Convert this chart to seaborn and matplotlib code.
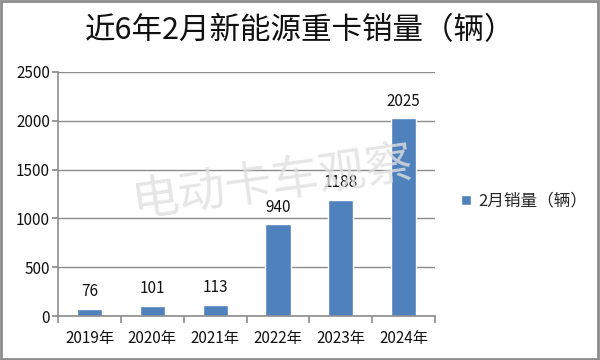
import matplotlib
matplotlib.use("Agg")
import matplotlib.pyplot as plt
import seaborn as sns
import numpy as np
import pandas as pd
from matplotlib.patches import Rectangle

years = ["2019年", "2020年", "2021年", "2022年", "2023年", "2024年"]
sales = [76, 101, 113, 940, 1188, 2025]
series_name = "2月销量（辆）"
title = "近6年2月新能源重卡销量（辆）"
y_ticks = [0, 500, 1000, 1500, 2000, 2500]

df = pd.DataFrame({"year": years, "sales": sales, "series": series_name})

sns.set_theme(style="white")
plt.rcParams['font.family'] = ['Noto Sans CJK SC', 'DejaVu Sans']

bar_color = "#4F81BD"
grey = "#8C8C8C"

fig = plt.figure(figsize=(6, 3.6), dpi=100)
ax = fig.add_axes([0.097, 0.122, 0.628, 0.678])

sns.barplot(data=df, x="year", y="sales", hue="series", palette=[bar_color],
            width=0.4, saturation=1, ax=ax, legend=True)

# value labels
for i, v in enumerate(sales):
    ax.text(i, v + 90, str(v), ha="center", va="bottom", fontsize=11, color="#111111")

ax.set_ylim(0, 2500)
ax.set_xlim(-0.5, len(years) - 0.5)
ax.set_yticks(y_ticks)
ax.yaxis.grid(True, color=grey, linewidth=1)
ax.set_axisbelow(True)
ax.set_xlabel("")
ax.set_ylabel("")

for s in ["top", "right"]:
    ax.spines[s].set_visible(False)
for s in ["left", "bottom"]:
    ax.spines[s].set_color(grey)
    ax.spines[s].set_linewidth(1.2)

ax.tick_params(axis="y", which="major", left=True, length=4, color=grey,
               labelsize=11, labelcolor="#111111", pad=2)
ax.tick_params(axis="x", which="major", bottom=False, labelsize=11,
               labelcolor="#111111", pad=4)
ax.set_xticks(np.arange(-0.5, len(years)), minor=True)
ax.tick_params(axis="x", which="minor", bottom=True, length=5, color=grey, width=1.2)

leg = ax.legend(loc="center left", bbox_to_anchor=(1.03, 0.47), frameon=False,
                fontsize=12, handlelength=0.6, handleheight=0.6, handletextpad=0.4)

fig.text(0.5, 0.915, title, ha="center", va="center", fontsize=22, fontweight="medium",
         color="#111111")

# watermark
fig.text(0.453, 0.49, "电动卡车观察", ha="center", va="center", fontsize=34,
         color="#e0e0e0", alpha=0.8, rotation=8, zorder=0)

fig.patches.append(Rectangle((0.002, 0.003), 0.995, 0.993, transform=fig.transFigure,
                             fill=False, edgecolor=grey, linewidth=2))

fig.savefig("out.png", dpi=100)
